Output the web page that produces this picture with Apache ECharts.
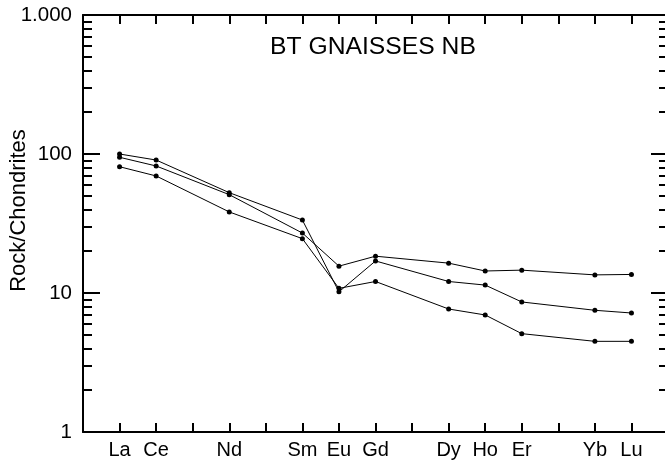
<!DOCTYPE html>
<html>
<head>
<meta charset="utf-8">
<script src="https://cdn.jsdelivr.net/npm/echarts@6/dist/echarts.min.js"></script>
<style>
  html, body { margin: 0; padding: 0; background: #fff; }
  #chart { width: 665px; height: 464px; }
</style>
</head>
<body>
<div id="chart"></div>
<script>
// REE elements and their atomic numbers (x positions)
var elements = ['La', 'Ce', 'Nd', 'Sm', 'Eu', 'Gd', 'Dy', 'Ho', 'Er', 'Yb', 'Lu'];
var atomicNumbers = [57, 58, 60, 62, 63, 64, 66, 67, 68, 70, 71];

// chondrite-normalised values, one array per sample
var sample1 = [100, 90.5, 52.7, 33.5, 10.2, 17.0, 12.1, 11.4, 8.62, 7.51, 7.18];
var sample2 = [94.7, 82, 51, 27, 15.6, 18.4, 16.4, 14.4, 14.6, 13.5, 13.6];
var sample3 = [81, 69.5, 38.3, 24.6, 10.8, 12.1, 7.67, 6.95, 5.1, 4.49, 4.49];

var yTickLabels = { 1: '1', 10: '10', 100: '100', 1000: '1.000' };

var font = 'Liberation Sans, Arial, Helvetica, sans-serif';

function pairs(values) {
  return atomicNumbers.map(function (z, i) { return [z, values[i]]; });
}

function elementLabel(v) {
  var i = atomicNumbers.indexOf(v);
  return i >= 0 ? elements[i] : '';
}

var myChart = echarts.init(document.getElementById('chart'));

var lineStyle = { color: '#000', width: 1 };
var sampleSeries = [sample1, sample2, sample3].map(function (s, i) {
  return {
    name: 'sample' + (i + 1),
    type: 'line',
    data: pairs(s),
    symbol: 'circle',
    symbolSize: 5,
    itemStyle: { color: '#000' },
    lineStyle: lineStyle,
    animation: false
  };
});

var xCommon = {
  type: 'value',
  min: 56,
  max: 72,
  interval: 1,
  splitLine: { show: false },
  axisLine: { show: true, lineStyle: { color: '#000', width: 2 } },
  axisTick: { show: true, inside: true, length: 9, lineStyle: { color: '#000', width: 2 } }
};

var yCommon = {
  type: 'log',
  logBase: 10,
  min: 1,
  max: 1000,
  splitLine: { show: false },
  axisLine: { show: true, lineStyle: { color: '#000', width: 2 } },
  axisTick: { show: true, inside: true, length: 17, lineStyle: { color: '#000', width: 2 } },
  minorTick: { show: true, splitNumber: 9, length: 9, lineStyle: { color: '#000', width: 2 } }
};

var option = {
  backgroundColor: '#fff',
  title: {
    text: 'BT GNAISSES NB',
    left: 373,
    top: 35,
    padding: 0,
    textAlign: 'center',
    textStyle: { fontFamily: font, fontSize: 24.7, fontWeight: 'normal', color: '#000' }
  },
  grid: {
    left: 83, top: 15, width: 585, height: 417,
    containLabel: false,
    outerBoundsMode: 'none'
  },
  xAxis: [
    Object.assign({}, xCommon, {
      position: 'bottom',
      axisLabel: {
        show: true,
        margin: 8,
        fontFamily: font,
        fontSize: 20,
        color: '#000',
        formatter: elementLabel
      }
    }),
    Object.assign({}, xCommon, {
      position: 'top',
      axisLabel: { show: false }
    })
  ],
  yAxis: [
    Object.assign({}, yCommon, {
      position: 'left',
      name: 'Rock/Chondrites',
      nameLocation: 'middle',
      nameGap: 53,
      nameMoveOverlap: false,
      nameTextStyle: { fontFamily: font, fontSize: 22, color: '#000', padding: [0, 0, 0, 26] },
      axisLabel: {
        show: true,
        margin: 11,
        fontFamily: font,
        fontSize: 20.5,
        color: '#000',
        formatter: function (v) { return yTickLabels[v] || ''; }
      }
    }),
    Object.assign({}, yCommon, {
      position: 'right',
      axisLabel: { show: false }
    })
  ],
  series: sampleSeries
};

myChart.setOption(option);
window.addEventListener('resize', function () {
  myChart.resize();
});
</script>
</body>
</html>
